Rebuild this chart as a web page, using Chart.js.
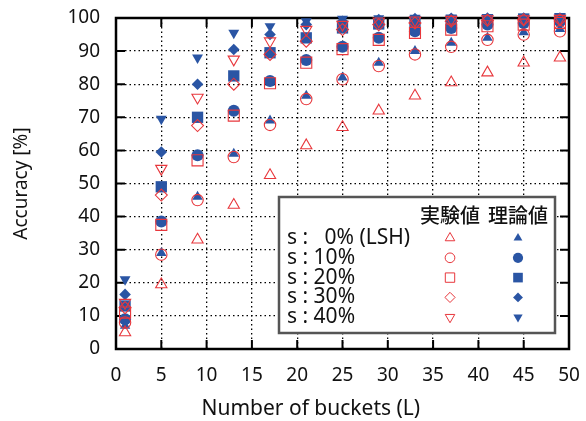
<!DOCTYPE html>
<html>
<head>
<meta charset="utf-8">
<script src="https://cdn.jsdelivr.net/npm/chart.js@4.4.1/dist/chart.umd.min.js"></script>
<style>
  html, body { margin: 0; padding: 0; background: #fff; }
  canvas { display: block; }
</style>
</head>
<body>
<canvas id="chart" width="586" height="421"></canvas>
<script>
// number of buckets L
const buckets = [1, 5, 9, 13, 17, 21, 25, 29, 33, 37, 41, 45, 49];

// experimental values (hollow red)
const exp0  = [5, 19.5, 33, 43.5, 52.5, 61.5, 67, 72, 76.5, 80.5, 83.5, 86.5, 88];
const exp10 = [8, 28.5, 45, 58, 67.7, 75.5, 81.5, 85.5, 89, 91.3, 93.4, 95, 96];
const exp20 = [11, 37.5, 57, 70.5, 80.3, 86.5, 90.6, 93.4, 95.5, 96.5, 97.5, 98, 98.5];
const exp30 = [12.5, 46.5, 67.5, 80, 89, 93, 96.5, 98, 98.5, 99, 99.3, 99.5, 99.5];
const exp40 = [14, 54.5, 76, 87.5, 93, 96.5, 98, 99, 99.3, 99.5, 99.7, 99.7, 99.8];

// theoretical values (filled blue)
const th0  = [7, 29, 46, 59, 69, 76.5, 82, 86.5, 90, 92.5, 94, 95.7, 96.7];
const th10 = [9, 38.5, 58.5, 72, 81, 87.3, 91.3, 94, 96, 97, 98, 98.5, 99];
const th20 = [13, 49, 70, 82.5, 89.5, 94, 97, 98.2, 99, 99.3, 99.5, 99.7, 99.8];
const th30 = [16.5, 59.5, 80, 90.5, 95, 98, 99, 99.5, 99.8, 99.9, 100, 100, 100];
const th40 = [21, 69.5, 88, 95.5, 97.5, 99, 99.7, 99.9, 100, 100, 100, 100, 100];

const seriesLabels = ['s :   0% (LSH)', 's : 10%', 's : 20%', 's : 30%', 's : 40%'];
const columnLabels = ['実験値', '理論値'];
const xTicks = [0, 5, 10, 15, 20, 25, 30, 35, 40, 45, 50];
const yTicks = [0, 10, 20, 30, 40, 50, 60, 70, 80, 90, 100];
const xTitle = 'Number of buckets (L)';

const RED = '#e8373c';
const BLUE = '#2a55a4';
const FONT = '"Noto Sans", "Open Sans", sans-serif';

const markers = [
  { pointStyle: 'triangle', rotation: 0, rExp: 6.5, rTh: 6 },
  { pointStyle: 'circle', rotation: 0, rExp: 5.7, rTh: 6 },
  { pointStyle: 'rect', rotation: 0, rExp: 7.8, rTh: 8 },
  { pointStyle: 'rectRot', rotation: 0, rExp: 6, rTh: 5.8 },
  { pointStyle: 'triangle', rotation: 180, rExp: 6.5, rTh: 6.3 }
];

const toPts = ys => ys.map((y, i) => ({ x: buckets[i], y: y }));

const expSets = [exp0, exp10, exp20, exp30, exp40].map((d, i) => ({
  label: columnLabels[0] + ' ' + seriesLabels[i],
  data: toPts(d),
  showLine: false,
  clip: false,
  pointStyle: markers[i].pointStyle,
  rotation: markers[i].rotation,
  pointRadius: markers[i].rExp,
  pointBorderWidth: 1.1,
  borderColor: RED,
  backgroundColor: 'rgba(0,0,0,0)'
}));

const thSets = [th0, th10, th20, th30, th40].map((d, i) => ({
  label: columnLabels[1] + ' ' + seriesLabels[i],
  data: toPts(d),
  showLine: false,
  clip: false,
  pointStyle: markers[i].pointStyle,
  rotation: markers[i].rotation,
  pointRadius: markers[i].rTh,
  pointBorderWidth: 0,
  borderColor: BLUE,
  backgroundColor: BLUE
}));

// frame + inward ticks on all four sides, and the x title (sits left of centre in the original)
const framePlugin = {
  id: 'frame',
  beforeDatasetsDraw(chart) {
    const { ctx, chartArea: a, scales } = chart;
    ctx.save();
    ctx.strokeStyle = '#000';
    ctx.lineWidth = 2;
    xTicks.forEach(v => {
      const px = scales.x.getPixelForValue(v);
      ctx.beginPath();
      ctx.moveTo(px, a.bottom); ctx.lineTo(px, a.bottom - 9);
      ctx.moveTo(px, a.top); ctx.lineTo(px, a.top + 9);
      ctx.stroke();
    });
    yTicks.forEach(v => {
      const py = scales.y.getPixelForValue(v);
      ctx.beginPath();
      ctx.moveTo(a.left, py); ctx.lineTo(a.left + 9, py);
      ctx.moveTo(a.right, py); ctx.lineTo(a.right - 9, py);
      ctx.stroke();
    });
    ctx.lineWidth = 2.5;
    ctx.strokeRect(a.left, a.top, a.right - a.left, a.bottom - a.top);

    ctx.fillStyle = '#111';
    ctx.font = '21px ' + FONT;
    ctx.textAlign = 'center';
    ctx.textBaseline = 'middle';
    ctx.fillText(xTitle, scales.x.getPixelForValue(21.5), a.bottom + 60);
    ctx.restore();
  }
};

// two-column legend box (実験値 / 理論値)
const legendPlugin = {
  id: 'legendBox',
  afterDraw(chart) {
    const { ctx, chartArea: a } = chart;
    const left = a.left + 163, right = a.right - 14;
    const top = a.top + 179, bottom = a.bottom - 16;
    const col1 = left + 171, col2 = left + 239;
    ctx.save();
    ctx.fillStyle = '#fff';
    ctx.fillRect(left, top, right - left, bottom - top);
    ctx.strokeStyle = '#555';
    ctx.lineWidth = 2.5;
    ctx.strokeRect(left, top, right - left, bottom - top);

    ctx.fillStyle = '#111';
    ctx.textAlign = 'center';
    ctx.textBaseline = 'middle';
    ctx.font = '500 20px "Noto Sans CJK JP"';
    ctx.fillText(columnLabels[0], col1, top + 18);
    ctx.fillText(columnLabels[1], col2, top + 18);

    ctx.textAlign = 'left';
    ctx.font = '21px ' + FONT;
    seriesLabels.forEach((lab, i) => {
      const y = top + 41 + i * 19.8;
      ctx.fillStyle = '#111';
      ctx.fillText(lab, left + 8, y);
      const e = expSets[i], t = thSets[i];
      ctx.lineWidth = 1;
      ctx.strokeStyle = RED; ctx.fillStyle = 'rgba(0,0,0,0)';
      Chart.helpers.drawPoint(ctx, { pointStyle: e.pointStyle, rotation: e.rotation, radius: e.pointRadius * 0.85, borderWidth: 1 }, col1, y);
      ctx.strokeStyle = BLUE; ctx.fillStyle = BLUE;
      Chart.helpers.drawPoint(ctx, { pointStyle: t.pointStyle, rotation: t.rotation, radius: t.pointRadius * 0.85, borderWidth: 0 }, col2, y);
    });
    ctx.restore();
  }
};

new Chart(document.getElementById('chart'), {
  type: 'scatter',
  data: { datasets: expSets.concat(thSets) },
  options: {
    responsive: false,
    animation: false,
    layout: { autoPadding: false, padding: { top: 18, right: 17, left: 0, bottom: 0 } },
    plugins: { legend: { display: false }, tooltip: { enabled: false } },
    scales: {
      x: {
        type: 'linear', min: 0, max: 50,
        afterBuildTicks: s => { s.ticks = xTicks.map(v => ({ value: v })); },
        // fixed box, and no extra side padding from the end labels
        afterFit: s => { s.height = 72; s.paddingLeft = 0; s.paddingRight = 0; },
        grid: { color: '#000', lineWidth: 1.3, drawTicks: false },
        border: { display: false, dash: [1.5, 3] },
        ticks: { color: '#111', font: { family: FONT, size: 19 }, padding: 15, maxRotation: 0 },
        title: { display: false }
      },
      y: {
        min: 0, max: 100,
        afterBuildTicks: s => { s.ticks = yTicks.map(v => ({ value: v })); },
        afterFit: s => { s.width = 116; s.paddingTop = 0; s.paddingBottom = 0; },
        grid: { color: '#000', lineWidth: 1.3, drawTicks: false },
        border: { display: false, dash: [1.5, 3] },
        ticks: { color: '#111', font: { family: FONT, size: 19 }, padding: 16 },
        title: { display: true, text: 'Accuracy [%]', color: '#111', font: { family: FONT, size: 19 }, padding: { top: 10, bottom: 0 } }
      }
    }
  },
  plugins: [framePlugin, legendPlugin]
});
</script>
</body>
</html>
